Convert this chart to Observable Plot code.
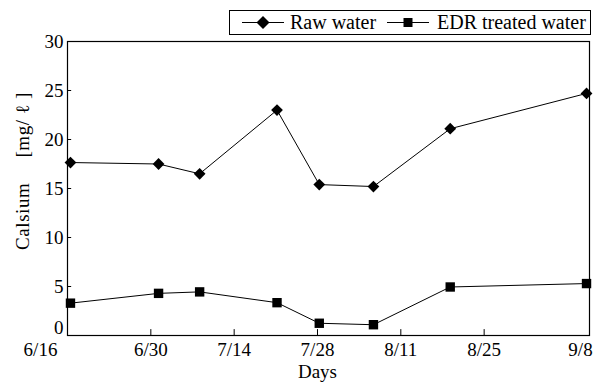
<!DOCTYPE html>
<html>
<head>
<meta charset="utf-8">
<script src="https://cdn.jsdelivr.net/npm/d3@7"></script>
<script src="https://cdn.jsdelivr.net/npm/@observablehq/plot@0.6"></script>
<style>
  html, body { margin: 0; padding: 0; background: #fff; }
  #wrap { position: relative; width: 601px; height: 385px; font-family: "Liberation Serif", "DejaVu Serif", serif; }
  #chart svg, #chart svg text { font-family: "Liberation Serif", "DejaVu Serif", serif !important; }
  #legend { position: absolute; left: 229px; top: 10px; width: 360px; height: 23px; border: 1px solid #000; background: #fff; font-size: 20px; color: #000; font-family: "Liberation Serif", serif; }
  #legend .item { position: absolute; top: 0; height: 23px; line-height: 23px; white-space: nowrap; }
  #legend svg { position: absolute; top: 0; }
  #ylabel { position: absolute; left: 22px; top: 171px; transform: translate(-50%, -50%) rotate(-90deg); white-space: pre; font-size: 19px; letter-spacing: 0.6px; color: #000; line-height: 1; }
</style>
</head>
<body>
<div id="wrap">
  <div id="chart"></div>
  <div id="ylabel"></div>
  <div id="legend"></div>
</div>
<script>
// Days since 6/16
const days = [0.5, 15.3, 22.2, 35.2, 42.3, 51.4, 64.3, 87.2];
const rawWater = [17.65, 17.5, 16.5, 23.0, 15.4, 15.2, 21.1, 24.7];
const edrWater = [3.3, 4.3, 4.45, 3.35, 1.25, 1.1, 4.95, 5.3];
const seriesNames = ["Raw water", "EDR treated water"];
const xTickDays = [0, 14, 28, 42, 56, 70, 87.7];
const xTickLabels = ["6/16", "6/30", "7/14", "7/28", "8/11", "8/25", "9/8"];
const yTicks = [0, 5, 10, 15, 20, 25, 30];
const yLabel = "Calsium\u2003 [mg/ \u2113 ]";
const xLabel = "Days";

const raw = days.map((d, i) => ({day: d, value: rawWater[i]}));
const edr = days.map((d, i) => ({day: d, value: edrWater[i]}));
const labelOf = new Map(xTickDays.map((d, i) => [d, xTickLabels[i]]));
const fmt = d => labelOf.get(d);
const FF = "Liberation Serif";

const chart = Plot.plot({
  width: 601,
  height: 385,
  marginLeft: 67,
  marginRight: 12,
  marginTop: 41,
  marginBottom: 50,
  style: {fontFamily: "'Liberation Serif', serif", fontSize: "19px", color: "#000", background: "#fff"},
  x: {type: "linear", domain: [0, 87.7]},
  y: {domain: [0, 30]},
  marks: [
    Plot.frame({stroke: "#000", strokeWidth: 1.2}),
    Plot.ruleX(xTickDays.slice(1, -1), {y1: 0, y2: 0.6, stroke: "#000"}),
    Plot.ruleY(yTicks.slice(1, -1), {x1: 0, x2: 0.7, stroke: "#000"}),
    Plot.axisY({ticks: yTicks.slice(1), tickSize: 0, tickPadding: 4, fontFamily: FF, label: null}),
    Plot.axisY({ticks: [yTicks[0]], tickSize: 0, tickPadding: 4, dy: -8, fontFamily: FF, label: null}),
    Plot.axisX({ticks: xTickDays.slice(1, -1), tickSize: 0, tickPadding: 7, tickFormat: fmt, fontFamily: FF, label: null}),
    Plot.axisX({ticks: [xTickDays[0]], tickSize: 0, tickPadding: 7, tickFormat: fmt, dx: -27, fontFamily: FF, label: null}),
    Plot.axisX({ticks: [xTickDays[xTickDays.length - 1]], tickSize: 0, tickPadding: 7, tickFormat: fmt, dx: -9, fontFamily: FF, label: null}),
    Plot.text([xLabel], {frameAnchor: "bottom", dx: -11, dy: 42, fontFamily: FF, fontSize: 19}),
    Plot.line(raw, {x: "day", y: "value", stroke: "#000", strokeWidth: 1}),
    Plot.line(edr, {x: "day", y: "value", stroke: "#000", strokeWidth: 1}),
    Plot.dot(raw, {x: "day", y: "value", symbol: "diamond2", r: 5.3, fill: "#000", stroke: "none"}),
    Plot.dot(edr, {x: "day", y: "value", symbol: "square", r: 5.3, fill: "#000", stroke: "none"})
  ]
});
document.getElementById("chart").appendChild(chart);
document.getElementById("ylabel").textContent = yLabel;

// Legend
const legend = document.getElementById("legend");
const items = [
  {name: seriesNames[0], lineX: 12, textX: 60, symbol: "diamond"},
  {name: seriesNames[1], lineX: 157, textX: 207, symbol: "square"}
];
for (const it of items) {
  const ns = "http://www.w3.org/2000/svg";
  const svg = document.createElementNS(ns, "svg");
  svg.setAttribute("width", 44);
  svg.setAttribute("height", 23);
  svg.style.left = it.lineX + "px";
  const ln = document.createElementNS(ns, "line");
  ln.setAttribute("x1", 0); ln.setAttribute("x2", 42);
  ln.setAttribute("y1", 11.5); ln.setAttribute("y2", 11.5);
  ln.setAttribute("stroke", "#000"); ln.setAttribute("stroke-width", 1.2);
  svg.appendChild(ln);
  const sh = document.createElementNS(ns, "path");
  sh.setAttribute("d", it.symbol === "diamond" ? "M21,5L27.5,11.5L21,18L14.5,11.5Z" : "M16.5,7H25.5V16H16.5Z");
  sh.setAttribute("fill", "#000");
  svg.appendChild(sh);
  legend.appendChild(svg);
  const span = document.createElement("span");
  span.className = "item";
  span.style.left = it.textX + "px";
  span.textContent = it.name;
  legend.appendChild(span);
}
</script>
</body>
</html>
